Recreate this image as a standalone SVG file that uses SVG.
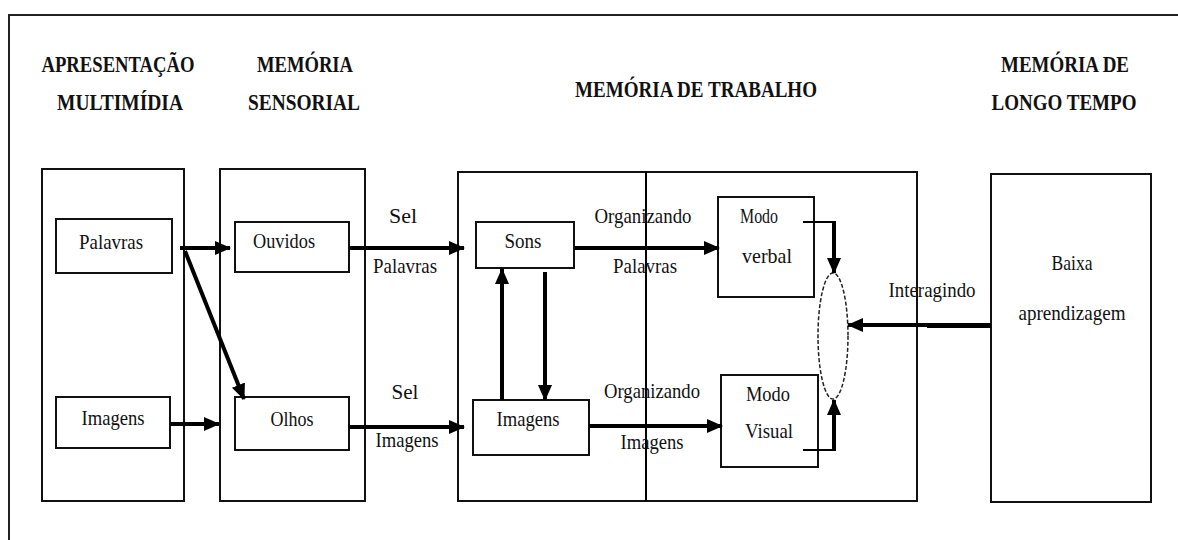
<svg xmlns="http://www.w3.org/2000/svg" width="1178" height="540" viewBox="0 0 1178 540">
<style>
.box{fill:#fff;stroke:#111;stroke-width:2}
.frame{fill:none;stroke:#222;stroke-width:2}
.h{font-family:"Liberation Serif",serif;font-weight:bold;font-size:24px;fill:#111;text-anchor:middle}
.t{font-family:"Liberation Serif",serif;font-size:22px;fill:#111;text-anchor:middle}
.c{fill:none;stroke:#000;stroke-width:4}
.thin{fill:none;stroke:#000;stroke-width:2}
</style>
<defs>
<marker id="ah" markerUnits="userSpaceOnUse" markerWidth="16" markerHeight="16" viewBox="0 0 16 16" refX="15" refY="8" orient="auto">
<path d="M0,1 L16,8 L0,15 z" fill="#000"/>
</marker>
</defs>
<rect width="1178" height="540" fill="#fff"/>
<path class="frame" d="M9,540 V15 H1178"/>

<g id="headings">
<text class="h" x="118" y="72" textLength="153" lengthAdjust="spacingAndGlyphs">APRESENTAÇÃO</text>
<text class="h" x="120" y="110" textLength="126" lengthAdjust="spacingAndGlyphs">MULTIMÍDIA</text>
<text class="h" x="305" y="72" textLength="96" lengthAdjust="spacingAndGlyphs">MEMÓRIA</text>
<text class="h" x="304" y="110" textLength="112" lengthAdjust="spacingAndGlyphs">SENSORIAL</text>
<text class="h" x="696" y="97" textLength="242" lengthAdjust="spacingAndGlyphs">MEMÓRIA DE TRABALHO</text>
<text class="h" x="1065" y="72" textLength="128" lengthAdjust="spacingAndGlyphs">MEMÓRIA DE</text>
<text class="h" x="1064" y="110" textLength="145" lengthAdjust="spacingAndGlyphs">LONGO TEMPO</text>
</g>

<g id="col-apresentacao"><rect class="box" x="42" y="169" width="142" height="332"/></g>
<g id="col-sensorial"><rect class="box" x="220" y="169" width="145" height="332"/></g>
<g id="col-trabalho"><rect class="box" x="458" y="172" width="459" height="329"/><line class="thin" x1="646" y1="172" x2="646" y2="501"/></g>
<g id="col-longo"><rect class="box" x="991" y="174" width="160" height="328"/></g>

<g id="palavras"><rect class="box" x="56" y="219" width="116" height="54"/><text class="t" x="111" y="249" textLength="64" lengthAdjust="spacingAndGlyphs">Palavras</text></g>
<g id="imagens-1"><rect class="box" x="56" y="397" width="114" height="51"/><text class="t" x="113" y="425" textLength="63" lengthAdjust="spacingAndGlyphs">Imagens</text></g>
<g id="ouvidos"><rect class="box" x="235" y="222" width="114" height="50"/><text class="t" x="284" y="248" textLength="62" lengthAdjust="spacingAndGlyphs">Ouvidos</text></g>
<g id="olhos"><rect class="box" x="235" y="397" width="114" height="53"/><text class="t" x="292" y="426" textLength="43" lengthAdjust="spacingAndGlyphs">Olhos</text></g>
<g id="sons"><rect class="box" x="476" y="222" width="98" height="46"/><text class="t" x="523" y="248" textLength="37" lengthAdjust="spacingAndGlyphs">Sons</text></g>
<g id="imagens-2"><rect class="box" x="473" y="400" width="116" height="55"/><text class="t" x="528" y="426" textLength="63" lengthAdjust="spacingAndGlyphs">Imagens</text></g>
<g id="modo-verbal"><rect class="box" x="718" y="197" width="96" height="100"/><text class="t" x="759" y="223" textLength="38" lengthAdjust="spacingAndGlyphs">Modo</text><text class="t" x="767" y="263" textLength="50" lengthAdjust="spacingAndGlyphs">verbal</text></g>
<g id="modo-visual"><rect class="box" x="721" y="375" width="97" height="92"/><text class="t" x="768" y="401" textLength="44" lengthAdjust="spacingAndGlyphs">Modo</text><text class="t" x="769" y="438" textLength="48" lengthAdjust="spacingAndGlyphs">Visual</text></g>
<g id="integracao"><ellipse cx="833" cy="336" rx="15" ry="63" fill="none" stroke="#222" stroke-width="1.5" stroke-dasharray="4,2"/></g>
<g id="baixa"><text class="t" x="1072" y="270" textLength="41" lengthAdjust="spacingAndGlyphs">Baixa</text><text class="t" x="1072" y="320" textLength="107" lengthAdjust="spacingAndGlyphs">aprendizagem</text></g>

<g id="connectors">
<line class="c" x1="180" y1="248" x2="230" y2="248" marker-end="url(#ah)"/>
<line class="c" x1="185" y1="251" x2="244" y2="399" marker-end="url(#ah)"/>
<line class="c" x1="170" y1="424" x2="219" y2="424" stroke-width="6" marker-end="url(#ah)"/>
<line class="c" x1="349" y1="248" x2="464" y2="248" marker-end="url(#ah)"/>
<line class="c" x1="349" y1="427" x2="464" y2="427" marker-end="url(#ah)"/>
<line class="c" x1="574" y1="248" x2="719" y2="248" marker-end="url(#ah)"/>
<line class="c" x1="589" y1="426" x2="722" y2="426" marker-end="url(#ah)"/>
<line class="c" x1="502" y1="400" x2="502" y2="269" marker-end="url(#ah)"/>
<line class="c" x1="545" y1="272" x2="545" y2="400" stroke-width="3" marker-end="url(#ah)"/>
<line class="thin" x1="803" y1="222" x2="836" y2="222"/>
<line class="c" x1="834" y1="222" x2="834" y2="273" stroke-width="5" marker-end="url(#ah)"/>
<line class="thin" x1="803" y1="450" x2="836" y2="450"/>
<line class="c" x1="834" y1="451" x2="834" y2="400" stroke-width="5" marker-end="url(#ah)"/>
<line class="c" x1="927" y1="326" x2="991" y2="326" stroke-width="7"/>
<line class="c" x1="991" y1="325" x2="848" y2="325" marker-end="url(#ah)"/>
</g>

<g id="labels">
<text class="t" x="403" y="223" textLength="28" lengthAdjust="spacingAndGlyphs">Sel</text>
<text class="t" x="405" y="273" textLength="64" lengthAdjust="spacingAndGlyphs">Palavras</text>
<text class="t" x="405" y="399" textLength="27" lengthAdjust="spacingAndGlyphs">Sel</text>
<text class="t" x="407" y="447" textLength="63" lengthAdjust="spacingAndGlyphs">Imagens</text>
<text class="t" x="643" y="223" textLength="97" lengthAdjust="spacingAndGlyphs">Organizando</text>
<text class="t" x="645" y="273" textLength="64" lengthAdjust="spacingAndGlyphs">Palavras</text>
<text class="t" x="652" y="398" textLength="96" lengthAdjust="spacingAndGlyphs">Organizando</text>
<text class="t" x="652" y="449" textLength="63" lengthAdjust="spacingAndGlyphs">Imagens</text>
<text class="t" x="932" y="297" textLength="87" lengthAdjust="spacingAndGlyphs">Interagindo</text>
</g>
</svg>
